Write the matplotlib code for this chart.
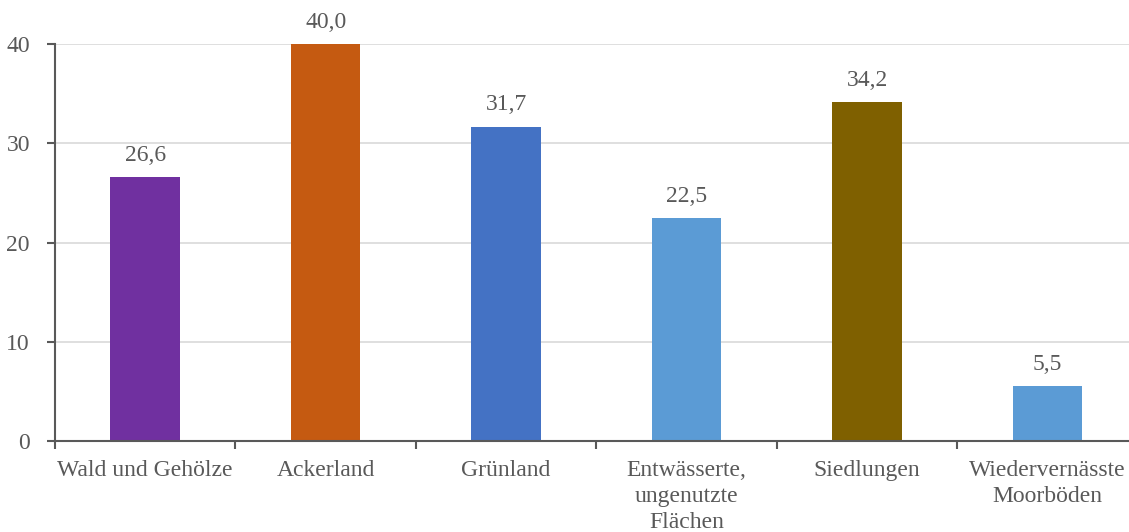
import matplotlib.pyplot as plt
import numpy as np

# Kategorien und Werte
categories = ['Wald und Gehölze', 'Ackerland', 'Grünland',
              'Entwässerte,\nungenutzte\nFlächen', 'Siedlungen',
              'Wiedervernässte\nMoorböden']
values = [26.6, 40.0, 31.7, 22.5, 34.2, 5.5]
colors = ['#7030A0', '#C55A11', '#4472C4', '#5B9BD5', '#7F6000', '#5B9BD5']

plt.rcParams['font.family'] = ['Liberation Serif', 'DejaVu Serif']
text_col = '#595959'

fig = plt.figure(figsize=(11.29, 5.32), dpi=100)
ax = fig.add_axes([0.0487, 0.171, 0.959, 0.746])

x = np.arange(len(categories))
bars = ax.bar(x, values, width=0.385, color=colors, zorder=3)
ax.bar_label(bars, labels=[f'{v:.1f}'.replace('.', ',') for v in values],
             padding=8, fontsize=17, color=text_col)

ax.set_xlim(-0.5, len(categories) - 0.5)
ax.set_ylim(0, 40)
ax.set_yticks([0, 10, 20, 30, 40])
ax.yaxis.grid(True, color='#D9D9D9', linewidth=1.2, zorder=0)

ax.set_xticks(x)
ax.set_xticklabels(categories, fontsize=17, color=text_col, linespacing=1.3)
ax.set_xticks(np.arange(len(categories) + 1) - 0.5, minor=True)
ax.tick_params(axis='x', which='major', length=0, pad=14)
ax.tick_params(axis='x', which='minor', length=6, width=1.5, color='#595959')
ax.tick_params(axis='y', length=6, width=1.5, color='#595959',
               labelsize=17, labelcolor=text_col, pad=12)

for side in ['top', 'right']:
    ax.spines[side].set_visible(False)
for side in ['left', 'bottom']:
    ax.spines[side].set_color('#595959')
    ax.spines[side].set_linewidth(1.5)
    ax.spines[side].set_zorder(4)

fig.savefig('out.png', dpi=100)
